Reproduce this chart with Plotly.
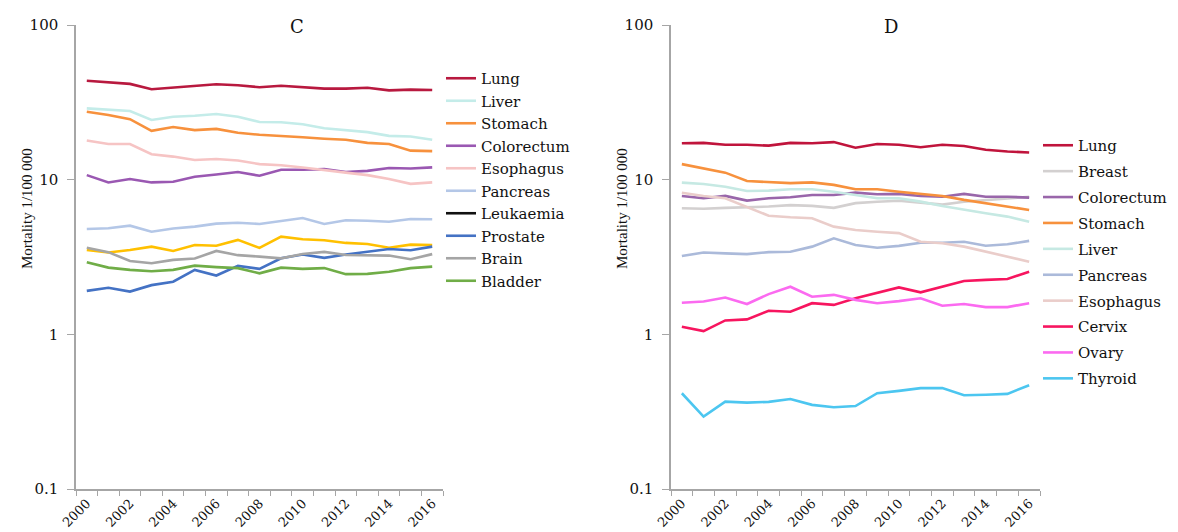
import plotly.graph_objects as go

years = list(range(2000, 2017))

# Panel C
c_names = ["Lung", "Liver", "Stomach", "Colorectum", "Esophagus", "Pancreas",
           "Leukaemia", "Prostate", "Brain", "Bladder"]
c_lung = [43.6, 42.6, 41.6, 38.4, 39.3, 40.3, 41.4, 40.8, 39.6, 40.5, 39.6, 38.8, 38.8, 39.3, 37.8, 38.2, 38.0]
c_liver = [28.9, 28.2, 27.8, 24.3, 25.5, 25.9, 26.6, 25.5, 23.6, 23.5, 22.8, 21.5, 21.0, 20.3, 19.2, 19.0, 18.1]
c_stomach = [27.5, 26.2, 24.6, 20.7, 21.9, 20.9, 21.3, 20.1, 19.5, 19.2, 18.8, 18.4, 18.1, 17.3, 17.0, 15.4, 15.3]
c_colorectum = [10.7, 9.6, 10.1, 9.6, 9.7, 10.45, 10.8, 11.2, 10.6, 11.6, 11.6, 11.7, 11.2, 11.4, 11.9, 11.8, 12.0]
c_esophagus = [17.9, 17.0, 17.0, 14.6, 14.1, 13.4, 13.6, 13.3, 12.6, 12.4, 12.0, 11.6, 11.1, 10.7, 10.1, 9.4, 9.6]
c_pancreas = [4.80, 4.85, 5.04, 4.61, 4.83, 4.97, 5.20, 5.27, 5.17, 5.38, 5.65, 5.17, 5.47, 5.43, 5.35, 5.57, 5.55]
c_leukaemia = [3.51, 3.38, 3.51, 3.69, 3.46, 3.78, 3.74, 4.08, 3.62, 4.28, 4.12, 4.06, 3.90, 3.84, 3.63, 3.80, 3.78]
c_prostate = [1.91, 2.00, 1.89, 2.08, 2.19, 2.61, 2.40, 2.77, 2.65, 3.10, 3.28, 3.12, 3.28, 3.41, 3.56, 3.50, 3.69]
c_brain = [3.63, 3.40, 2.98, 2.88, 3.03, 3.09, 3.46, 3.25, 3.18, 3.10, 3.31, 3.41, 3.26, 3.26, 3.23, 3.06, 3.30]
c_bladder = [2.92, 2.70, 2.61, 2.56, 2.61, 2.78, 2.72, 2.68, 2.48, 2.70, 2.65, 2.68, 2.45, 2.46, 2.54, 2.68, 2.74]
c_values = [c_lung, c_liver, c_stomach, c_colorectum, c_esophagus, c_pancreas,
            c_leukaemia, c_prostate, c_brain, c_bladder]
c_colors = ["#B8193F", "#C4ECE9", "#F7913D", "#9A58B2", "#F6C4C4", "#B4C7E7",
            "#FFC000", "#4472C4", "#A5A5A5", "#70AD47"]
c_legend_colors = ["#B8193F", "#C4ECE9", "#F7913D", "#9A58B2", "#F6C4C4", "#B4C7E7",
                   "#111111", "#4472C4", "#A5A5A5", "#70AD47"]

# Panel D
d_names = ["Lung", "Breast", "Colorectum", "Stomach", "Liver", "Pancreas",
           "Esophagus", "Cervix", "Ovary", "Thyroid"]
d_lung = [17.2, 17.3, 16.8, 16.8, 16.6, 17.3, 17.2, 17.5, 16.1, 17.0, 16.8, 16.2, 16.8, 16.5, 15.6, 15.2, 15.0]
d_breast = [6.53, 6.48, 6.57, 6.62, 6.70, 6.85, 6.77, 6.57, 7.05, 7.20, 7.30, 7.10, 6.90, 7.20, 7.40, 7.60, 7.75]
d_colorectum = [7.85, 7.58, 7.85, 7.32, 7.58, 7.69, 7.96, 7.96, 8.24, 8.05, 8.09, 7.85, 7.76, 8.09, 7.76, 7.76, 7.65]
d_stomach = [12.6, 11.8, 11.1, 9.8, 9.7, 9.5, 9.6, 9.25, 8.67, 8.67, 8.36, 8.09, 7.85, 7.40, 7.04, 6.69, 6.37]
d_liver = [9.57, 9.38, 9.01, 8.45, 8.49, 8.67, 8.67, 8.36, 7.96, 7.58, 7.58, 7.21, 6.76, 6.44, 6.07, 5.77, 5.35]
d_pancreas = [3.21, 3.38, 3.34, 3.30, 3.40, 3.42, 3.69, 4.18, 3.78, 3.63, 3.73, 3.91, 3.91, 3.97, 3.74, 3.82, 4.02]
d_esophagus = [8.24, 7.85, 7.58, 6.63, 5.85, 5.71, 5.63, 4.97, 4.73, 4.61, 4.51, 3.97, 3.88, 3.69, 3.42, 3.18, 2.95]
d_cervix = [1.12, 1.05, 1.23, 1.25, 1.42, 1.40, 1.59, 1.55, 1.71, 1.86, 2.01, 1.87, 2.03, 2.21, 2.25, 2.28, 2.54]
d_ovary = [1.60, 1.63, 1.73, 1.57, 1.82, 2.03, 1.75, 1.80, 1.67, 1.59, 1.64, 1.71, 1.53, 1.57, 1.50, 1.50, 1.59]
d_thyroid = [0.416, 0.294, 0.367, 0.362, 0.366, 0.382, 0.350, 0.338, 0.344, 0.416, 0.431, 0.449, 0.449, 0.404, 0.407, 0.412, 0.469]
d_values = [d_lung, d_breast, d_colorectum, d_stomach, d_liver, d_pancreas,
            d_esophagus, d_cervix, d_ovary, d_thyroid]
d_colors = ["#C0143C", "#D3D0D0", "#9966AA", "#F7913D", "#C6E9E3", "#ABBADA",
            "#EACDCA", "#F7155F", "#FB6AF0", "#4CC6F0"]

x_tickvals = list(range(2000, 2017, 2))
x_ticktext = [str(v) for v in x_tickvals]
y_tickvals = [0.1, 1, 10, 100]
y_ticktext = ["0.1", "1", "10", "100"]

W, H = 1178, 532
SERIF = "DejaVu Serif"
TNR = "Liberation Serif"

fig = go.Figure()

for name, vals, col, lcol in zip(c_names, c_values, c_colors, c_legend_colors):
    if col != lcol:
        fig.add_trace(go.Scatter(x=years, y=vals, mode="lines", name=name,
                                 line=dict(color=col, width=2.6), showlegend=False,
                                 xaxis="x", yaxis="y", legend="legend"))
        fig.add_trace(go.Scatter(x=[None], y=[None], mode="lines", name=name,
                                 line=dict(color=lcol, width=2.6),
                                 xaxis="x", yaxis="y", legend="legend"))
    else:
        fig.add_trace(go.Scatter(x=years, y=vals, mode="lines", name=name,
                                 line=dict(color=col, width=2.6),
                                 xaxis="x", yaxis="y", legend="legend"))

for i, (name, vals, col) in enumerate(zip(d_names, d_values, d_colors)):
    fig.add_trace(go.Scatter(x=years, y=vals, mode="lines", name=name,
                             line=dict(color=col, width=2.6), legendgroup="d%d" % i,
                             xaxis="x2", yaxis="y2", legend="legend2"))


def px_x(p):
    return p / W


def px_y(p):
    return 1 - p / H


axis_common = dict(showline=True, linecolor="#A6A6A6", linewidth=1.5, showgrid=False,
                   zeroline=False, automargin=False)

xax = dict(axis_common, range=[1999.5, 2016.5], tickmode="array", tickvals=x_tickvals,
           ticktext=x_ticktext, ticks="", tickangle=-45, ticklabelstandoff=0,
           tickfont=dict(family=SERIF, size=13, color="#111111"),
           minor=dict(ticks="outside", tick0=1999.5, dtick=1, ticklen=5,
                      tickcolor="#A6A6A6", tickwidth=1.2))
yax = dict(axis_common, type="log", range=[-1, 2], tickmode="array", tickvals=y_tickvals,
           ticktext=y_ticktext, ticks="outside", ticklen=7, tickcolor="#A6A6A6",
           tickwidth=1.2, ticklabelstandoff=6,
           tickfont=dict(family=SERIF, size=15, color="#111111"))

legend_common = dict(font=dict(family=SERIF, size=15, color="#111111"),
                     bgcolor="rgba(0,0,0,0)", borderwidth=0, xanchor="left",
                     yanchor="top", itemwidth=30)

title_font = dict(family=SERIF, size=18, color="#111111")
ytitle_font = dict(family=TNR, size=15, color="#111111")

fig.update_layout(
    width=W, height=H, margin=dict(l=0, r=0, t=0, b=0),
    paper_bgcolor="white", plot_bgcolor="white",
    xaxis=dict(xax, domain=[px_x(76), px_x(443)], anchor="y"),
    yaxis=dict(yax, domain=[px_y(489), px_y(25)], anchor="x"),
    xaxis2=dict(xax, domain=[px_x(671), px_x(1040)], anchor="y2"),
    yaxis2=dict(yax, domain=[px_y(489), px_y(25)], anchor="x2"),
    legend=dict(legend_common, x=px_x(441), y=px_y(62), tracegroupgap=0),
    legend2=dict(legend_common, x=px_x(1038), y=px_y(129), traceorder="grouped",
                 tracegroupgap=3.4),
    annotations=[
        dict(text="C", x=px_x(297), y=px_y(26), xref="paper", yref="paper",
             xanchor="center", yanchor="middle", showarrow=False, font=title_font),
        dict(text="D", x=px_x(891), y=px_y(26), xref="paper", yref="paper",
             xanchor="center", yanchor="middle", showarrow=False, font=title_font),
        dict(text="Mortality 1/100 000", x=px_x(27), y=px_y(209), xref="paper",
             yref="paper", xanchor="center", yanchor="middle", textangle=-90,
             showarrow=False, font=ytitle_font),
        dict(text="Mortality 1/100 000", x=px_x(622), y=px_y(209), xref="paper",
             yref="paper", xanchor="center", yanchor="middle", textangle=-90,
             showarrow=False, font=ytitle_font),
    ],
)

fig.write_html("out.html")
